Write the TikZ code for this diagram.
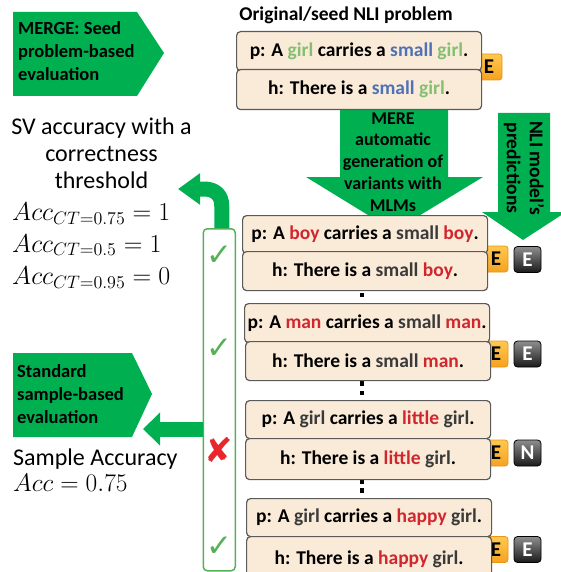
\documentclass[tikz,border=0pt]{standalone}
\usepackage{fontspec}
\usetikzlibrary{arrows.meta}
\newfontfamily\cbr{Carlito}
\newfontfamily\dejavu{DejaVu Sans}

\definecolor{mgreen}{HTML}{00B050}
\definecolor{boxfill}{HTML}{FAEBD8}
\definecolor{boxline}{HTML}{5A5A5A}
\definecolor{wgreen}{HTML}{84BF72}
\definecolor{wblue}{HTML}{4F71B5}
\definecolor{wred}{HTML}{D0262D}
\definecolor{wgray}{HTML}{3A3A3A}
\definecolor{chk}{HTML}{56B058}
\definecolor{xred}{HTML}{E8262B}
\definecolor{goldtop}{HTML}{FFC850}
\definecolor{goldbot}{HTML}{F6A21E}
\definecolor{goldline}{HTML}{E8951A}
\definecolor{predtop}{HTML}{8E8E8E}
\definecolor{predbot}{HTML}{1A1A1A}

\tikzset{
  pairbox/.style={draw=boxline, line width=1.2pt, fill=boxfill, rounded corners=4pt,
    minimum width=245pt, minimum height=39pt, inner sep=0pt, anchor=north west,
    font=\cbr\bfseries\fontsize{19.5}{22}\selectfont},
  gold/.style={draw=goldline, line width=0.8pt, rounded corners=3pt,
    top color=goldtop, bottom color=goldbot, minimum width=24pt, minimum height=26pt,
    inner sep=0pt, font=\cbr\bfseries\fontsize{21}{22}\selectfont},
  pred/.style={draw=black, line width=0.8pt, rounded corners=3.5pt,
    top color=predtop, bottom color=predbot, text=white, minimum width=27pt,
    minimum height=26pt, inner sep=0pt, font=\cbr\bfseries\fontsize{21}{22}\selectfont},
  flagtext/.style={align=left, anchor=west, inner sep=0pt,
    font=\cbr\bfseries\fontsize{18.5}{23}\selectfont},
  plaintext/.style={inner sep=0pt, font=\cbr\fontsize{24}{27}\selectfont},
  mathtext/.style={anchor=base west, inner sep=0pt, scale=1.25, font=\huge},
  tick/.style={text=chk, inner sep=0pt, font=\dejavu\bfseries\fontsize{31}{31}\selectfont},
  cross/.style={text=xred, inner sep=0pt, font=\dejavu\fontsize{34}{34}\selectfont},
  fatarrow/.style={draw=mgreen, line width=15pt},
}

\begin{document}
\begin{tikzpicture}[x=1pt,y=-1pt]
\useasboundingbox (0,0) rectangle (561,572);
\clip (0,0) rectangle (561,572);

% ---- evaluation flags ----
\fill[mgreen] (13,12) -- (137,12) -- (164,53) -- (137,96) -- (13,96) -- cycle;
\node[flagtext] (merge) at (18,51) {MERGE: Seed\\problem-based\\evaluation};

\fill[mgreen] (13,353) -- (132,353) -- (152,394) -- (132,437) -- (13,437) -- cycle;
\node[flagtext] (std) at (17,394) {Standard\\sample-based\\evaluation};

% ---- seed problem ----
\node[inner sep=0pt, font=\cbr\bfseries\fontsize{19.5}{22}\selectfont] (title) at (346,15)
  {Original/seed NLI problem};

% ---- big downward arrows ----
\fill[mgreen] (340,108) -- (448,108) -- (448,177) -- (483,177) -- (394,231)
  -- (306,177) -- (340,177) -- cycle;
\node[align=center, inner sep=0pt, font=\cbr\bfseries\fontsize{18}{21.8}\selectfont]
  (mere) at (393,162) {MERE\\automatic\\generation of\\variants with\\MLMs};

\fill[mgreen] (498,113) -- (550,113) -- (550,212) -- (566,212) -- (523,240)
  -- (482,212) -- (498,212) -- cycle;
\node[rotate=-90, align=center, inner sep=0pt,
  font=\cbr\bfseries\fontsize{19.5}{23}\selectfont] (nli) at (524,168)
  {NLI model’s\\predictions};

% ---- gold labels and model predictions (behind the pairs) ----
\node[gold, minimum width=26pt] (g0) at (489,67) {E};
\node[gold] (g1) at (496,259) {E};
\node[pred] (m1) at (527.5,259.5) {E};
\node[gold] (g2) at (496,354) {E};
\node[pred] (m2) at (527.5,354) {E};
\node[gold] (g3) at (496,453) {E};
\node[pred] (m3) at (527.5,453) {N};
\node[gold] (g4) at (496,549.5) {E};
\node[pred] (m4) at (527.5,549.5) {E};

% ---- vertical ellipses between variants ----
\foreach \yy in {286,295,383.5,393,481.5,490.5}
  \fill (359.5,\yy-2.3) rectangle (364,\yy+2.3);

% ---- premise / hypothesis pairs ----
\node[pairbox] (p0) at (236,31)
  {p: A \textcolor{wgreen}{girl} carries a \textcolor{wblue}{small} \textcolor{wgreen}{girl}.};
\node[pairbox, minimum height=40pt] (h0) at (236,69)
  {h: There is a \textcolor{wblue}{small} \textcolor{wgreen}{girl}.};

\node[pairbox, minimum height=38pt] (p1) at (242,215)
  {p: A \textcolor{wred}{boy} carries a \textcolor{wgray}{small} \textcolor{wred}{boy}.};
\node[pairbox] (h1) at (242,251)
  {h: There is a \textcolor{wgray}{small} \textcolor{wred}{boy}.};

\node[pairbox] (p2) at (244,303)
  {p: A \textcolor{wred}{man} carries a \textcolor{wgray}{small} \textcolor{wred}{man}.};
\node[pairbox] (h2) at (245,341)
  {h: There is a \textcolor{wgray}{small} \textcolor{wred}{man}.};

\node[pairbox, minimum height=38pt] (p3) at (245,400)
  {p: A \textcolor{wgray}{girl} carries a \textcolor{wred}{little} \textcolor{wgray}{girl}.};
\node[pairbox, minimum height=41pt] (h3) at (245,438)
  {h: There is a \textcolor{wred}{little} \textcolor{wgray}{girl}.};

\node[pairbox, minimum height=38pt] (p4) at (246,498)
  {p: A \textcolor{wgray}{girl} carries a \textcolor{wred}{happy} \textcolor{wgray}{girl}.};
\node[pairbox, minimum height=45pt] (h4) at (246,536)
  {h: There is a \textcolor{wred}{happy} \textcolor{wgray}{girl}.};

% ---- per-variant correctness column ----
\node[draw=chk, line width=1.5pt, rounded corners=4pt, minimum width=32pt,
  minimum height=342pt, anchor=north west, inner sep=0pt] (col) at (202.5,228) {};
\node[tick] (t1) at (219,256) {✓};
\node[tick] (t2) at (219,349) {✓};
\node[cross] (t3) at (219,450) {✘};
\node[tick] (t4) at (219,547) {✓};

% ---- aggregation arrows ----
\coordinate (svtip) at (178,189);
\coordinate (stdtip) at (143,429);
\draw[fatarrow, -{Triangle[length=22pt,width=30pt]}]
  ([xshift=2.5pt]col.north) -- ++(0,-22) .. controls +(0,-11) and (215,189) .. (204,189)
  -- (svtip);
\draw[fatarrow, -{Triangle[length=17pt,width=32pt]}] (col.west |- stdtip) -- (stdtip);

% ---- scores ----
\node[plaintext, align=center] (sv) at (101.5,153)
  {SV accuracy with a\\correctness\\threshold};
\node[mathtext] (a1) at (12,220.5) {$Acc_{CT=0.75}=1$};
\node[mathtext] (a2) at (12,252) {$Acc_{CT=0.5}=1$};
\node[mathtext] (a3) at (12,284.5) {$Acc_{CT=0.95}=0$};

\node[plaintext, anchor=base west] (sa) at (13,465.5) {Sample Accuracy};
\node[mathtext, scale=0.98] (a4) at (13,491) {$Acc=0.75$};
\end{tikzpicture}
\end{document}
